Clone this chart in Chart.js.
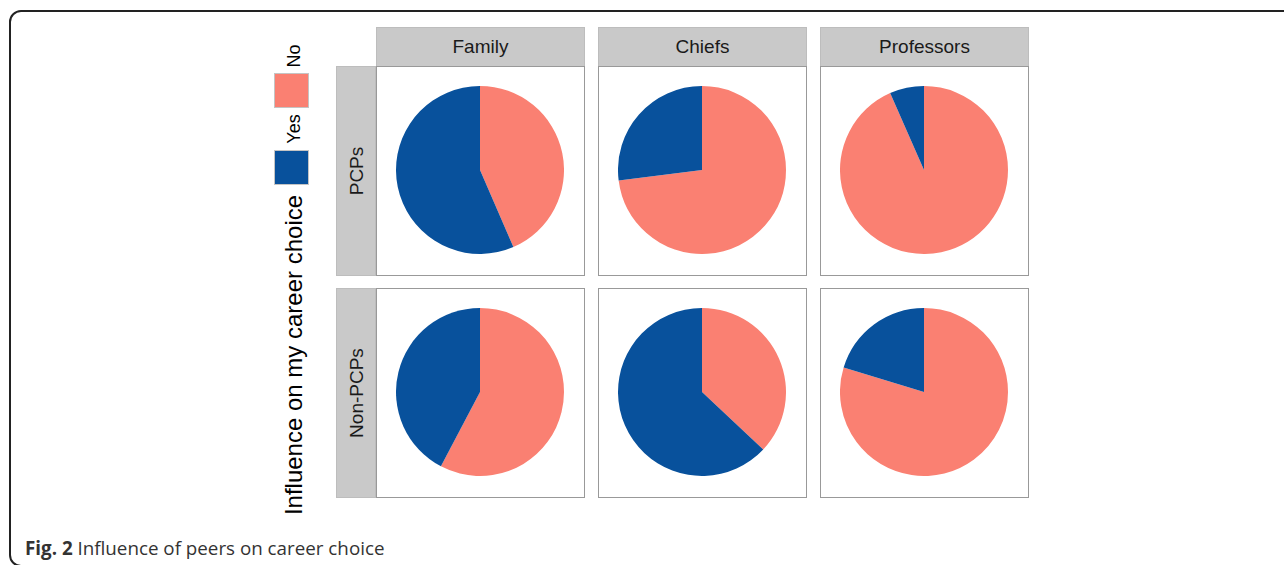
<!DOCTYPE html>
<html>
<head>
<meta charset="utf-8">
<script src="https://cdn.jsdelivr.net/npm/chart.js@4"></script>
<style>
  body { margin: 0; background: #fff; width: 1284px; height: 565px; overflow: hidden; position: relative; font-family: "Liberation Sans", Arial, sans-serif; }
  .frame { position: absolute; left: 9px; top: 10px; width: 1300px; height: 553px; border: 2px solid #222; border-radius: 12px; }
  .strip { position: absolute; background: #c9c9c9; border: 1px solid #bdbdbd; box-sizing: border-box; color: #1a1a1a; font-size: 19px; }
  .colstrip { display: flex; align-items: center; justify-content: center; }
  .panel { position: absolute; border: 1.5px solid #999; box-sizing: border-box; background: #fff; }
  .panel canvas { position: absolute; }
  .rot { position: absolute; white-space: nowrap; transform: translate(-50%, -50%) rotate(-90deg); }
  .key { position: absolute; width: 35px; height: 35px; border: 1.5px solid #c4c4c4; box-sizing: border-box; }
  .caption { position: absolute; left: 25px; top: 535px; font-family: "Open Sans", sans-serif; font-size: 18.8px; color: #333; white-space: nowrap; }
</style>
</head>
<body>
<div class="frame"></div>
<div id="fig"></div>
<div class="caption"><b>Fig. 2</b> Influence of peers on career choice</div>
<script>
// facets
const columns = ['Family', 'Chiefs', 'Professors'];
const rows = ['PCPs', 'Non-PCPs'];
const responses = ['No', 'Yes'];
const colors = ['#fa8072', '#08519c'];

// share of respondents (%) per facet
const noPCPs = [43.5, 73, 93.4];
const yesPCPs = [56.5, 27, 6.6];
const noNonPCPs = [57.7, 37, 79.7];
const yesNonPCPs = [42.3, 63, 20.3];

const legendTitle = 'Influence on my career choice';

const fig = document.getElementById('fig');
const panelLeft = [376, 598, 820];
const panelTop = [66, 288];
const panelW = 209, panelH = 210;

function el(cls, css, text) {
    const d = document.createElement('div');
    d.className = cls;
    Object.assign(d.style, css);
    if (text) d.textContent = text;
    fig.appendChild(d);
    return d;
}

columns.forEach((c, i) => {
    el('strip colstrip', { left: panelLeft[i] + 'px', top: '27px', width: panelW + 'px', height: '40px' }, c);
});

rows.forEach((r, j) => {
    el('strip', { left: '336px', top: panelTop[j] + 'px', width: '40px', height: panelH + 'px' });
    el('rot', { left: '357px', top: (panelTop[j] + panelH / 2) + 'px', fontSize: '19px', color: '#1a1a1a' }, r);
});

// legend
el('rot', { left: '294px', top: '56px', fontSize: '18px' }, responses[0]);
el('key', { left: '274px', top: '73px', background: colors[0] });
el('rot', { left: '294px', top: '129px', fontSize: '18px' }, responses[1]);
el('key', { left: '274px', top: '150px', background: colors[1] });
el('rot', { left: '294px', top: '355px', fontSize: '24px' }, legendTitle);

const series = [[noPCPs, yesPCPs], [noNonPCPs, yesNonPCPs]];

rows.forEach((r, j) => {
    columns.forEach((c, i) => {
        const p = el('panel', { left: panelLeft[i] + 'px', top: panelTop[j] + 'px', width: panelW + 'px', height: panelH + 'px' });
        const cv = document.createElement('canvas');
        cv.width = 168; cv.height = 168;
        cv.style.left = '19px';
        cv.style.top = '19px';
        cv.style.width = '168px';
        cv.style.height = '168px';
        p.appendChild(cv);
        new Chart(cv.getContext('2d'), {
            type: 'pie',
            data: {
                labels: responses,
                datasets: [{
                    data: [series[j][0][i], series[j][1][i]],
                    backgroundColor: colors,
                    borderWidth: 0
                }]
            },
            options: {
                responsive: false,
                animation: false,
                devicePixelRatio: 1,
                plugins: {
                    legend: { display: false },
                    tooltip: { enabled: false }
                }
            }
        });
    });
});
</script>
</body>
</html>
